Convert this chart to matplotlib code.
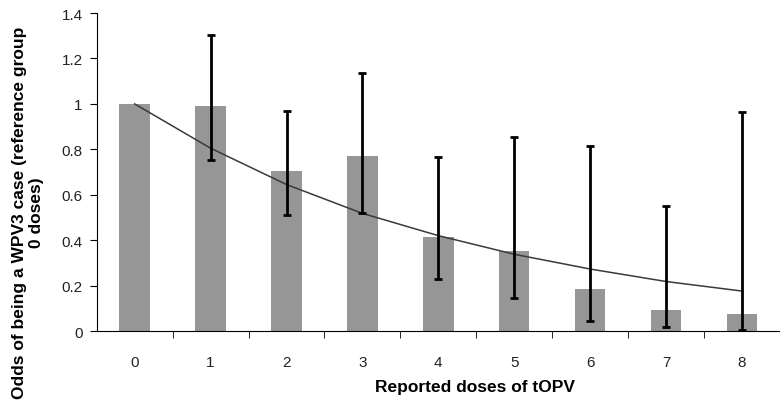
import numpy as np
import matplotlib
matplotlib.use("Agg")
import matplotlib.pyplot as plt

plt.rcParams['font.family'] = ['Liberation Sans', 'DejaVu Sans']

doses = [0, 1, 2, 3, 4, 5, 6, 7, 8]
odds = [1.0, 0.99, 0.706, 0.77, 0.414, 0.351, 0.184, 0.091, 0.075]
ci_low = [None, 0.755, 0.512, 0.521, 0.228, 0.147, 0.044, 0.018, 0.004]
ci_high = [None, 1.305, 0.97, 1.138, 0.767, 0.853, 0.815, 0.549, 0.965]
trend = [1.0, 0.805, 0.645, 0.518, 0.42, 0.338, 0.273, 0.218, 0.176]

fig = plt.figure(figsize=(7.8, 4.14), dpi=100)
ax = fig.add_axes([0.124, 0.198, 0.876, 0.768])

x = np.array(doses)
ax.bar(x, odds, width=0.4, color='#969696', zorder=2)

# no CI for the reference group
ex = x[1:]
ey = np.array(odds[1:])
lo = ey - np.array(ci_low[1:])
hi = np.array(ci_high[1:]) - ey
ax.errorbar(ex, ey, yerr=[lo, hi], fmt='none', ecolor='black',
            elinewidth=2, capsize=3, capthick=2, zorder=4)

ax.plot(x, trend, color='#3a3a3a', lw=1.1, zorder=3)

ax.set_xlim(-0.5, 8.5)
ax.set_ylim(0, 1.4)
ax.set_yticks(np.arange(0, 1.41, 0.2))
ax.set_yticklabels(['0', '0.2', '0.4', '0.6', '0.8', '1', '1.2', '1.4'])
ax.set_xticks(x)
ax.set_xticks(np.arange(0.5, 8.5, 1), minor=True)
ax.tick_params(axis='x', which='major', length=0, pad=17, labelsize=11, labelcolor='#222222')
ax.tick_params(axis='x', which='minor', length=5, direction='out')
ax.tick_params(axis='y', length=5, direction='out', labelsize=11, labelcolor='#222222', pad=5)

for s in ['top', 'right']:
    ax.spines[s].set_visible(False)

fig.text(475 / 780, 1 - 388 / 414, 'Reported doses of tOPV', fontsize=12.5,
         fontweight='bold', ha='center', va='center')
fig.text(28 / 780, 1 - 213 / 414, 'Odds of being a WPV3 case (reference group\n0 doses)',
         fontsize=12.5, fontweight='bold', rotation=90, ha='center', va='center',
         multialignment='center', linespacing=1.15)

fig.savefig('out.png', dpi=100)
